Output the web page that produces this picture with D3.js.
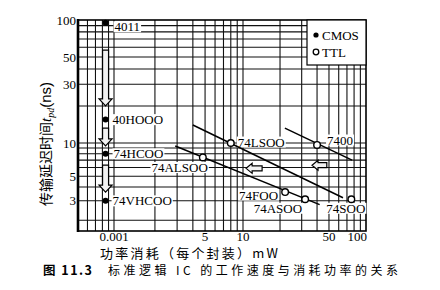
<!DOCTYPE html>
<html><head><meta charset="utf-8">
<script src="https://cdn.jsdelivr.net/npm/d3@7"></script>
<style>
html,body{margin:0;padding:0;background:#fff;}
svg{display:block;}
</style></head><body>
<svg id="chart" width="440" height="290"></svg>
<script>
// CMOS gates (filled dots): power per package in mW, propagation delay in ns
const cmosNames = ["4011", "40HOOO", "74HCOO", "74VHCOO"];
const cmosPower = [0.00085, 0.00085, 0.00085, 0.00085];
const cmosDelay = [95, 15.5, 8, 3];

// TTL gates (open circles)
const ttlNames = ["74ALSOO", "74LSOO", "7400", "74FOO", "74ASOO", "74SOO"];
const ttlPower = [4.8, 8, 40, 22, 32, 76];
const ttlDelay = [7.4, 10, 9.6, 3.6, 3.1, 3.1];

// speed/power trend lines of the TTL families, [power, delay] at each end
const trendStart = [[2.9, 9.4], [4.0, 14], [21.9, 13.2]];
const trendEnd = [[42, 2.77], [65, 3.2], [77, 7.0]];

// hollow arrows: CMOS generations getting faster (down), TTL saving power (left)
const downArrowPower = [0.00085, 0.00085, 0.00085];
const downArrowFrom = [57, 13.2, 6.3];
const downArrowTo = [20, 9.4, 3.6];
const leftArrowDelay = [5.9, 6.3];
const leftArrowFrom = [14.3, 48];
const leftArrowTo = [10.6, 36.4];

// axis ticks and grid
const yTickValues = [100, 50, 30, 10, 5, 3];
const xTickValues = [0.001, 5, 10, 50, 100];
const xTickLabels = ["0.001", "5", "10", "50", "100"];
const yGridValues = [2, 3, 4, 5, 6, 7, 8, 9, 10, 20, 30, 40, 50, 60, 70, 80, 90];
const xGridValues = [0.0006, 0.0007, 0.0008, 0.0009, 0.001,
  2, 3, 4, 5, 6, 7, 8, 9, 10, 20, 30, 40, 50, 60, 70, 80, 90];

// label placement relative to each mark: [dx, dy, anchor]
const cmosLabelPlace = {
  "4011": [9, 4, "start"], "40HOOO": [7, 0, "start"],
  "74HCOO": [8, 0, "start"], "74VHCOO": [7, 0, "start"]
};
const ttlLabelPlace = {
  "74ALSOO": [5, 10, "end"], "74LSOO": [7, -1, "start"], "7400": [10, -5, "start"],
  "74FOO": [-7, 3, "end"], "74ASOO": [-3, 9, "end"], "74SOO": [14, 9, "end"]
};

const svg = d3.select("#chart");
const L = 78, R = 366, T = 20, B = 231;
const serif = "'Liberation Serif', 'DejaVu Serif', serif";
const cjk = "'Noto Sans CJK SC', sans-serif";

// broken log axis: 0.0005–0.001 mW, then 1–100 mW
const x = d3.scaleLog().domain([0.0005, 0.001, 1, 10, 100]).range([L, 114, 117, 243, R]);
const y = d3.scaleLog().domain([1.6, 10, 100]).range([B, 143, T]);

// grid
const grid = svg.append("g").attr("stroke", "#111").attr("stroke-width", 1.1);
grid.selectAll("line.h").data(yGridValues).join("line")
  .attr("x1", L).attr("x2", R).attr("y1", d => y(d)).attr("y2", d => y(d));
grid.selectAll("line.v").data(xGridValues).join("line")
  .attr("y1", T).attr("y2", B).attr("x1", d => x(d)).attr("x2", d => x(d));

// frame
svg.append("rect").attr("x", L).attr("y", T).attr("width", R - L).attr("height", B - T)
  .attr("fill", "none").attr("stroke", "#000").attr("stroke-width", 1.6);
svg.append("line").attr("x1", L).attr("x2", L).attr("y1", T - 1).attr("y2", B + 1)
  .attr("stroke", "#000").attr("stroke-width", 2.6);

// point labels (white boxes drawn first so lines and marks stay on top)
const labelBoxes = svg.append("g");
const labelTexts = svg.append("g").attr("font-family", serif).attr("font-size", 13).attr("fill", "#000");
function addLabel(name, px, py, place) {
  const t = labelTexts.append("text")
    .attr("x", px + place[0]).attr("y", py + place[1]).attr("dy", "0.35em")
    .attr("text-anchor", place[2]).text(name);
  const bb = t.node().getBBox();
  labelBoxes.append("rect").attr("x", bb.x - 1).attr("y", bb.y + 2)
    .attr("width", bb.width + 2).attr("height", bb.height - 4).attr("fill", "#fff");
}
cmosNames.forEach((n, i) => addLabel(n, x(cmosPower[i]), y(cmosDelay[i]), cmosLabelPlace[n]));
ttlNames.forEach((n, i) => addLabel(n, x(ttlPower[i]), y(ttlDelay[i]), ttlLabelPlace[n]));

// TTL trend lines
const line = d3.line().x(d => x(d[0])).y(d => y(d[1]));
svg.append("g").selectAll("path").data(trendStart.map((s, i) => [s, trendEnd[i]])).join("path")
  .attr("d", line).attr("fill", "none").attr("stroke", "#000").attr("stroke-width", 1.5);

// hollow arrows
const arrows = svg.append("g").attr("fill", "#f2f2f2").attr("stroke", "#000").attr("stroke-width", 1.2);
downArrowPower.forEach((p, i) => {
  const cx = x(p), y0 = y(downArrowFrom[i]), y1 = y(downArrowTo[i]);
  const path = d3.path();
  path.moveTo(cx - 3, y0); path.lineTo(cx + 3, y0); path.lineTo(cx + 3, y1 - 7);
  path.lineTo(cx + 6.5, y1 - 7); path.lineTo(cx, y1); path.lineTo(cx - 6.5, y1 - 7);
  path.lineTo(cx - 3, y1 - 7); path.closePath();
  arrows.append("path").attr("d", path.toString());
});
leftArrowDelay.forEach((d, i) => {
  const cy = y(d), x0 = x(leftArrowFrom[i]), x1 = x(leftArrowTo[i]);
  const path = d3.path();
  path.moveTo(x0, cy - 2.5); path.lineTo(x0, cy + 2.5); path.lineTo(x1 + 6, cy + 2.5);
  path.lineTo(x1 + 6, cy + 5); path.lineTo(x1, cy); path.lineTo(x1 + 6, cy - 5);
  path.lineTo(x1 + 6, cy - 2.5); path.closePath();
  arrows.append("path").attr("d", path.toString());
});

// marks
svg.append("g").selectAll("circle").data(cmosDelay).join("circle")
  .attr("cx", (d, i) => x(cmosPower[i])).attr("cy", d => y(d)).attr("r", 3).attr("fill", "#000");
svg.append("g").selectAll("circle").data(ttlDelay).join("circle")
  .attr("cx", (d, i) => x(ttlPower[i])).attr("cy", d => y(d)).attr("r", 3.3)
  .attr("fill", "#fff").attr("stroke", "#000").attr("stroke-width", 1.4);

// legend
const lg = svg.append("g");
lg.append("rect").attr("x", 307).attr("y", T).attr("width", R - 307).attr("height", 45)
  .attr("fill", "#fff").attr("stroke", "#000").attr("stroke-width", 1.2);
lg.append("circle").attr("cx", 316).attr("cy", 35).attr("r", 2.6).attr("fill", "#000");
lg.append("circle").attr("cx", 316).attr("cy", 52).attr("r", 2.8).attr("fill", "#fff")
  .attr("stroke", "#000").attr("stroke-width", 1.3);
lg.append("text").attr("x", 322).attr("y", 35).attr("dy", "0.35em").attr("font-family", serif)
  .attr("font-size", 13).text("CMOS");
lg.append("text").attr("x", 322).attr("y", 52).attr("dy", "0.35em").attr("font-family", serif)
  .attr("font-size", 13).text("TTL");

// tick labels
svg.append("g").attr("font-family", serif).attr("font-size", 13)
  .selectAll("text").data(yTickValues).join("text")
  .attr("x", L - 2).attr("y", d => y(d)).attr("dy", "0.35em").attr("text-anchor", "end")
  .text(d => d);
svg.append("g").attr("font-family", serif).attr("font-size", 13)
  .selectAll("text").data(xTickValues).join("text")
  .attr("x", (d, i) => d === 100 ? R + 1 : x(d)).attr("y", 240.5)
  .attr("text-anchor", d => d === 100 ? "end" : "middle")
  .text((d, i) => xTickLabels[i]);

// axis titles
svg.append("text").attr("x", 100).attr("y", 257.5).attr("font-family", cjk).attr("font-size", 13)
  .attr("textLength", 178).attr("lengthAdjust", "spacing")
  .text("功率消耗（每个封装）mW");
const yt = svg.append("text").attr("transform", "translate(51,144) rotate(-90)")
  .attr("text-anchor", "middle").attr("font-family", cjk).attr("font-size", 14);
yt.append("tspan").text("传输延迟时间");
yt.append("tspan").attr("font-family", serif).attr("font-style", "italic").attr("font-size", 15).text("t");
yt.append("tspan").attr("font-family", serif).attr("font-style", "italic").attr("font-size", 10)
  .attr("dy", 3).text("pd");
yt.append("tspan").attr("font-family", "'Liberation Sans', sans-serif").attr("font-size", 15)
  .attr("dy", -3).text("(ns)");

// caption
svg.append("text").attr("x", 43).attr("y", 275).attr("font-family", cjk).attr("font-size", 12.5)
  .attr("font-weight", "bold").attr("textLength", 49).attr("lengthAdjust", "spacing")
  .text("图 11.3");
svg.append("text").attr("x", 108).attr("y", 275).attr("font-family", cjk).attr("font-size", 12)
  .attr("textLength", 290).attr("lengthAdjust", "spacing")
  .text("标准逻辑 IC 的工作速度与消耗功率的关系");
</script>
</body></html>
